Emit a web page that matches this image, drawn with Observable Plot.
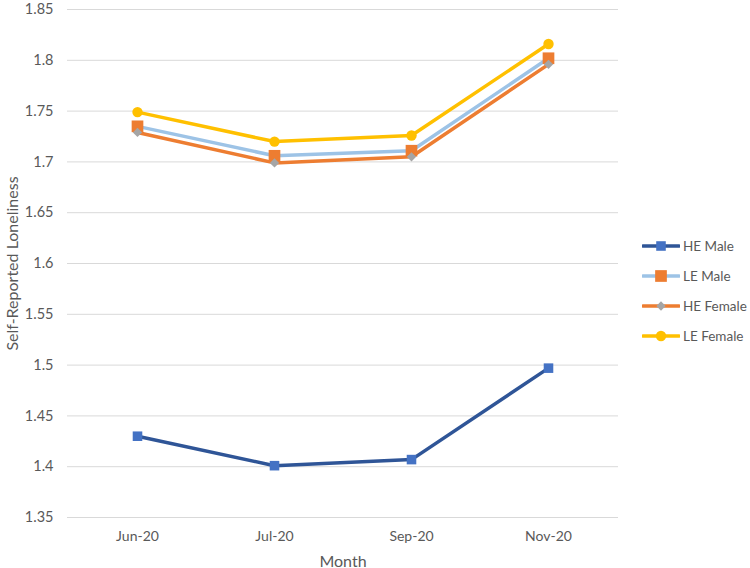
<!DOCTYPE html>
<html>
<head>
<meta charset="utf-8">
<script src="https://cdn.jsdelivr.net/npm/d3@7"></script>
<script src="https://cdn.jsdelivr.net/npm/@observablehq/plot@0.6"></script>
<style>
  html, body { margin: 0; padding: 0; background: #fff; }
  #wrap { position: relative; width: 750px; height: 568px; font-family: Lato, sans-serif; }
  #legend { position: absolute; left: 642px; top: 231px; }
  .item { display: flex; align-items: center; height: 30px; font-size: 13.5px; color: #595959; white-space: nowrap; }
  .item svg { margin-right: 3px; }
</style>
</head>
<body>
<div id="wrap"><div id="legend"></div></div>
<script>
const months = ["Jun-20", "Jul-20", "Sep-20", "Nov-20"];
const seriesNames = ["HE Male", "LE Male", "HE Female", "LE Female"];
const heMale = [1.430, 1.401, 1.407, 1.497];
const leMale = [1.735, 1.706, 1.711, 1.802];
const heFemale = [1.729, 1.699, 1.705, 1.796];
const leFemale = [1.749, 1.720, 1.726, 1.816];
const yTicks = [1.35, 1.4, 1.45, 1.5, 1.55, 1.6, 1.65, 1.7, 1.75, 1.8, 1.85];

const seriesValues = [heMale, leMale, heFemale, leFemale];
const lineColors = ["#2F5597", "#9DC3E6", "#ED7D31", "#FFC000"];
const markerColors = ["#4472C4", "#ED7D31", "#A5A5A5", "#FFC000"];
const markerSymbols = ["square", "square", "diamond2", "circle"];
const markerR = [5.4, 6.6, 4.2, 5.2];

const marks = [
  Plot.gridY(yTicks, {stroke: "#D9D9D9", strokeOpacity: 1, strokeWidth: 1}),
  Plot.axisY(yTicks, {tickSize: 0, tickPadding: 14, tickFormat: d => String(d), fontSize: 14.5, color: "#595959",
    label: "Self-Reported Loneliness", labelAnchor: "center", labelArrow: "none", labelOffset: 61}),
  Plot.axisX({tickSize: 0, tickPadding: 14, fontSize: 14, color: "#595959", label: "Month", labelAnchor: "center", labelArrow: "none", labelOffset: 49})
];
seriesValues.forEach((vals, i) => {
  const rows = months.map((m, j) => ({month: m, value: vals[j]}));
  marks.push(Plot.line(rows, {x: "month", y: "value", stroke: lineColors[i], strokeWidth: 3.5, strokeLinejoin: "round", strokeLinecap: "round"}));
  marks.push(Plot.dot(rows, {x: "month", y: "value", symbol: markerSymbols[i], r: markerR[i], fill: markerColors[i], stroke: "none"}));
});

const chart = Plot.plot({
  width: 750,
  height: 568,
  marginLeft: 67,
  marginRight: 132,
  marginTop: 9,
  marginBottom: 51,
  style: {fontFamily: "Lato, sans-serif", color: "#595959", background: "#fff"},
  x: {type: "point", domain: months, padding: 0.5},
  y: {domain: [1.35, 1.85]},
  marks
});
d3.select(chart).selectAll("[aria-label='y-axis label'] text, [aria-label='x-axis label'] text").style("font-size", "16px");
document.getElementById("wrap").prepend(chart);

const legend = document.getElementById("legend");
seriesNames.forEach((name, i) => {
  const item = document.createElement("div");
  item.className = "item";
  const s = d3.create("svg").attr("width", 38).attr("height", 14);
  s.append("line").attr("x1", 1).attr("x2", 37).attr("y1", 7).attr("y2", 7)
    .attr("stroke", lineColors[i]).attr("stroke-width", 3.5).attr("stroke-linecap", "round");
  const sym = {square: d3.symbolSquare, diamond2: d3.symbolDiamond2, circle: d3.symbolCircle}[markerSymbols[i]];
  s.append("path").attr("transform", "translate(19,7)")
    .attr("d", d3.symbol(sym, markerR[i] * markerR[i] * Math.PI)())
    .attr("fill", markerColors[i]);
  item.appendChild(s.node());
  const t = document.createElement("span");
  t.textContent = name;
  item.appendChild(t);
  legend.appendChild(item);
});
</script>
</body>
</html>
